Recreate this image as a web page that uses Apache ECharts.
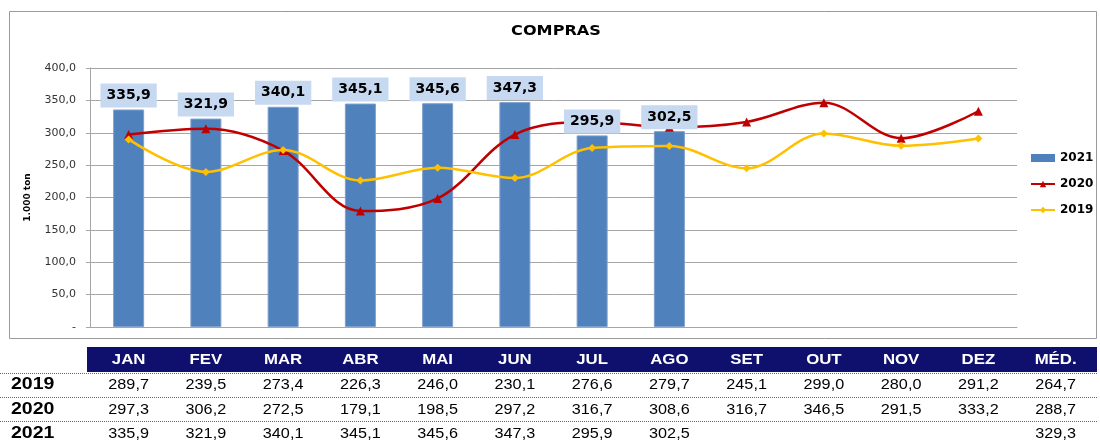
<!DOCTYPE html>
<html>
<head>
<meta charset="utf-8">
<script src="https://cdn.jsdelivr.net/npm/echarts@6/dist/echarts.min.js"></script>
<style>
  html, body { margin: 0; padding: 0; background: #fff; }
</style>
</head>
<body>
<div id="chart" style="width: 1100px; height: 445px"></div>
<script>
// dados
const months = ["JAN", "FEV", "MAR", "ABR", "MAI", "JUN", "JUL", "AGO", "SET", "OUT", "NOV", "DEZ"];
const avgHeader = "MÉD.";
const values2021 = [335.9, 321.9, 340.1, 345.1, 345.6, 347.3, 295.9, 302.5, null, null, null, null];
const values2020 = [297.3, 306.2, 272.5, 179.1, 198.5, 297.2, 316.7, 308.6, 316.7, 346.5, 291.5, 333.2];
const values2019 = [289.7, 239.5, 273.4, 226.3, 246.0, 230.1, 276.6, 279.7, 245.1, 299.0, 280.0, 291.2];
const rowNames = ["2019", "2020", "2021"];
const averages = [264.7, 288.7, 329.3];
const yMin = 0, yMax = 400, yStep = 50;

const fmt = v => (v == null ? "" : v.toFixed(1).replace(".", ","));
const chartFont = "DejaVu Sans";
const tableFont = "Liberation Sans";

const option = {
  animation: false,
  legend: {
    orient: "vertical",
    left: 1025,
    top: 147,
    itemWidth: 24,
    itemHeight: 8,
    itemGap: 14,
    textStyle: { fontFamily: chartFont, fontWeight: "bold", fontSize: 12, color: "#000" },
    data: [
      { name: "2021", icon: "rect", itemStyle: { color: "#4f81bd", borderWidth: 0 } },
      { name: "2020" },
      { name: "2019" }
    ]
  },
  grid: { left: 90, right: 83, top: 68, bottom: 118 },
  xAxis: {
    type: "category",
    data: months,
    axisLine: { show: true, lineStyle: { color: "#a6a6a6" } },
    axisTick: { show: false },
    axisLabel: { show: false }
  },
  yAxis: {
    type: "value",
    min: yMin,
    max: yMax,
    interval: yStep,
    name: "1.000 ton",
    nameLocation: "middle",
    nameRotate: 90,
    nameGap: 58,
    nameTextStyle: { fontFamily: chartFont, fontWeight: "bold", fontSize: 9, color: "#000" },
    axisLine: { show: true, lineStyle: { color: "#a6a6a6" } },
    axisTick: { show: true, inside: false, length: 4, lineStyle: { color: "#a6a6a6" } },
    axisLabel: {
      fontFamily: chartFont,
      fontSize: 11,
      color: "#333",
      margin: 14,
      formatter: v => (v === 0 ? "-" : fmt(v))
    },
    splitLine: { lineStyle: { color: "#a6a6a6", width: 1 } }
  },
  series: [
    {
      name: "2021",
      type: "bar",
      data: values2021,
      barWidth: 31,
      z: 2,
      itemStyle: { color: "#4f81bd", borderColor: "#7f9fcc", borderWidth: 1 }
    },
    {
      name: "2020",
      type: "line",
      data: values2020,
      smooth: 0.35,
      z: 3,
      symbol: "triangle",
      symbolSize: 9,
      lineStyle: { color: "#c00000", width: 2.5 },
      itemStyle: { color: "#c00000" }
    },
    {
      name: "2019",
      type: "line",
      data: values2019,
      smooth: 0.35,
      z: 3,
      symbol: "diamond",
      symbolSize: 8,
      lineStyle: { color: "#ffc000", width: 2.5 },
      itemStyle: { color: "#ffc000" }
    },
    {
      // barra transparente só para os rótulos, acima das linhas
      name: "rotulos2021",
      type: "bar",
      data: values2021,
      barWidth: 31,
      barGap: "-100%",
      z: 5,
      silent: true,
      itemStyle: { color: "rgba(0,0,0,0)" },
      label: {
        show: true,
        position: "top",
        distance: 2,
        fontFamily: chartFont,
        fontWeight: "bold",
        fontSize: 14,
        lineHeight: 16,
        color: "#000",
        backgroundColor: "#c6d9f1",
        padding: [4, 6, 4, 6],
        formatter: p => fmt(p.value)
      }
    }
  ]
};

const myChart = echarts.init(document.getElementById("chart"), null, { renderer: "canvas" });
myChart.setOption(option);

// tabela abaixo do gráfico, colunas alinhadas com o eixo das categorias
const colX = months.map(m => myChart.convertToPixel({ xAxisIndex: 0 }, m));
const step = colX[1] - colX[0];
colX.push(colX[colX.length - 1] + step);
const headers = months.concat([avgHeader]);
const rows = [values2019, values2020, values2021];
const rowY = [385, 409.5, 433.5];
const lineY = [373.5, 397.5, 421.5];

const textStyle = (text, font, fill, align) => ({
  text: text, fill: fill, font: font,
  textAlign: align, textVerticalAlign: "middle", align: align, verticalAlign: "middle"
});

const elements = [];
// moldura do gráfico
elements.push({
  type: "rect",
  shape: { x: 9.5, y: 11.5, width: 1087, height: 327 },
  style: { fill: "none", stroke: "#9a9a9a", lineWidth: 1 },
  silent: true
});
// título
elements.push({
  type: "text",
  x: 556,
  y: 31,
  scaleX: 1.15,
  style: textStyle("COMPRAS", "bold 14px " + chartFont, "#000", "center"),
  silent: true
});
// cabeçalho
elements.push({
  type: "rect",
  shape: { x: 87, y: 347, width: 1010, height: 25 },
  style: { fill: "#0f0f6e" },
  silent: true
});
headers.forEach((h, i) => {
  elements.push({
    type: "text",
    x: colX[i],
    y: 360,
    scaleX: 1.12,
    style: textStyle(h, "bold 15px " + tableFont, "#fff", "center"),
    silent: true
  });
});
lineY.forEach(y => {
  elements.push({
    type: "line",
    shape: { x1: 0, y1: y, x2: 1097, y2: y },
    style: { stroke: "#666", lineWidth: 1, lineDash: [1, 1] },
    silent: true
  });
});
rows.forEach((vals, r) => {
  elements.push({
    type: "text",
    x: 11,
    y: rowY[r],
    scaleX: 1.22,
    style: textStyle(rowNames[r], "bold 16px " + tableFont, "#000", "left"),
    silent: true
  });
  vals.concat([averages[r]]).forEach((v, i) => {
    if (v == null) return;
    elements.push({
      type: "text",
      x: colX[i],
      y: rowY[r],
      scaleX: 1.08,
      style: textStyle(fmt(v), "15px " + tableFont, "#000", "center"),
      silent: true
    });
  });
});

myChart.setOption({ graphic: { elements: elements } });
</script>
</body>
</html>
